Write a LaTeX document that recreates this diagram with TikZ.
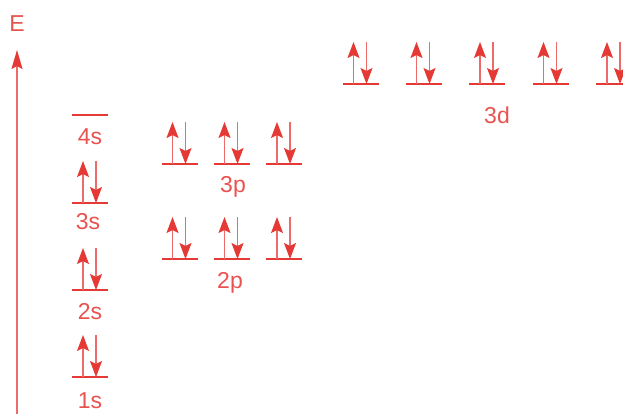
\documentclass[tikz,border=0pt]{standalone}
\usepackage{fontspec}
\setmainfont{Liberation Sans}
\usetikzlibrary{arrows.meta}
\definecolor{orbRed}{HTML}{E53935}
\definecolor{labRed}{HTML}{E8524F}
% one energy level: name, x, y (px from top)
\newcommand{\level}[3]{%
  \coordinate (#1) at (#2,#3);
  \draw[levelline] ([xshift=-18pt]#1) -- ([xshift=18pt]#1);}
% paired electrons on a level
\newcommand{\spinpair}[1]{%
  \draw[spinup] ([xshift=-7pt]#1) -- ([xshift=-7pt,yshift=42pt]#1);
  \draw[spindown] ([xshift=6pt,yshift=42pt]#1) -- ([xshift=6pt]#1);}

\begin{document}
\begin{tikzpicture}[x=1pt, y=-1pt,
  every node/.style={font=\fontsize{23}{27}\selectfont, text=labRed, inner sep=0pt},
  levelline/.style={orbRed, line width=2.4pt},
  spinup/.style={orbRed!75, line width=1.1pt,
    -{Stealth[length=16pt,width=12pt,inset=3pt,color=orbRed]}},
  spindown/.style={spinup}]
  \useasboundingbox (0,0) rectangle (623,414);
  % energy axis
  \coordinate (ebot) at (17,414);
  \coordinate (etop) at (17,50);
  \draw[orbRed!75, line width=1.2pt,
    -{Stealth[length=19pt,width=11pt,inset=3pt,color=orbRed]}] (ebot) -- (etop);
  \node (E) at (17,24) {E};
  % s levels
  \level{s1}{90}{377} \spinpair{s1}
  \level{s2}{90}{290} \spinpair{s2}
  \level{s3}{90}{203} \spinpair{s3}
  \level{s4}{90}{115}
  \node (l1s) at (90,401) {1s};
  \node (l2s) at (90,312) {2s};
  \node (l3s) at (88,222) {3s};
  \node (l4s) at (90,137) {4s};
  % p levels
  \foreach \x [count=\i] in {179.5,231.5,284}{
    \level{p2\i}{\x}{259} \spinpair{p2\i}
    \level{p3\i}{\x}{164} \spinpair{p3\i}
  }
  \node (l2p) at (230,283) {2p};
  \node (l3p) at (233,187) {3p};
  % d levels
  \foreach \x [count=\i] in {360.5,423.5,487,550.5,614}{
    \level{d3\i}{\x}{84} \spinpair{d3\i}
  }
  \node (l3d) at (497,115) {3d};
\end{tikzpicture}
\end{document}
